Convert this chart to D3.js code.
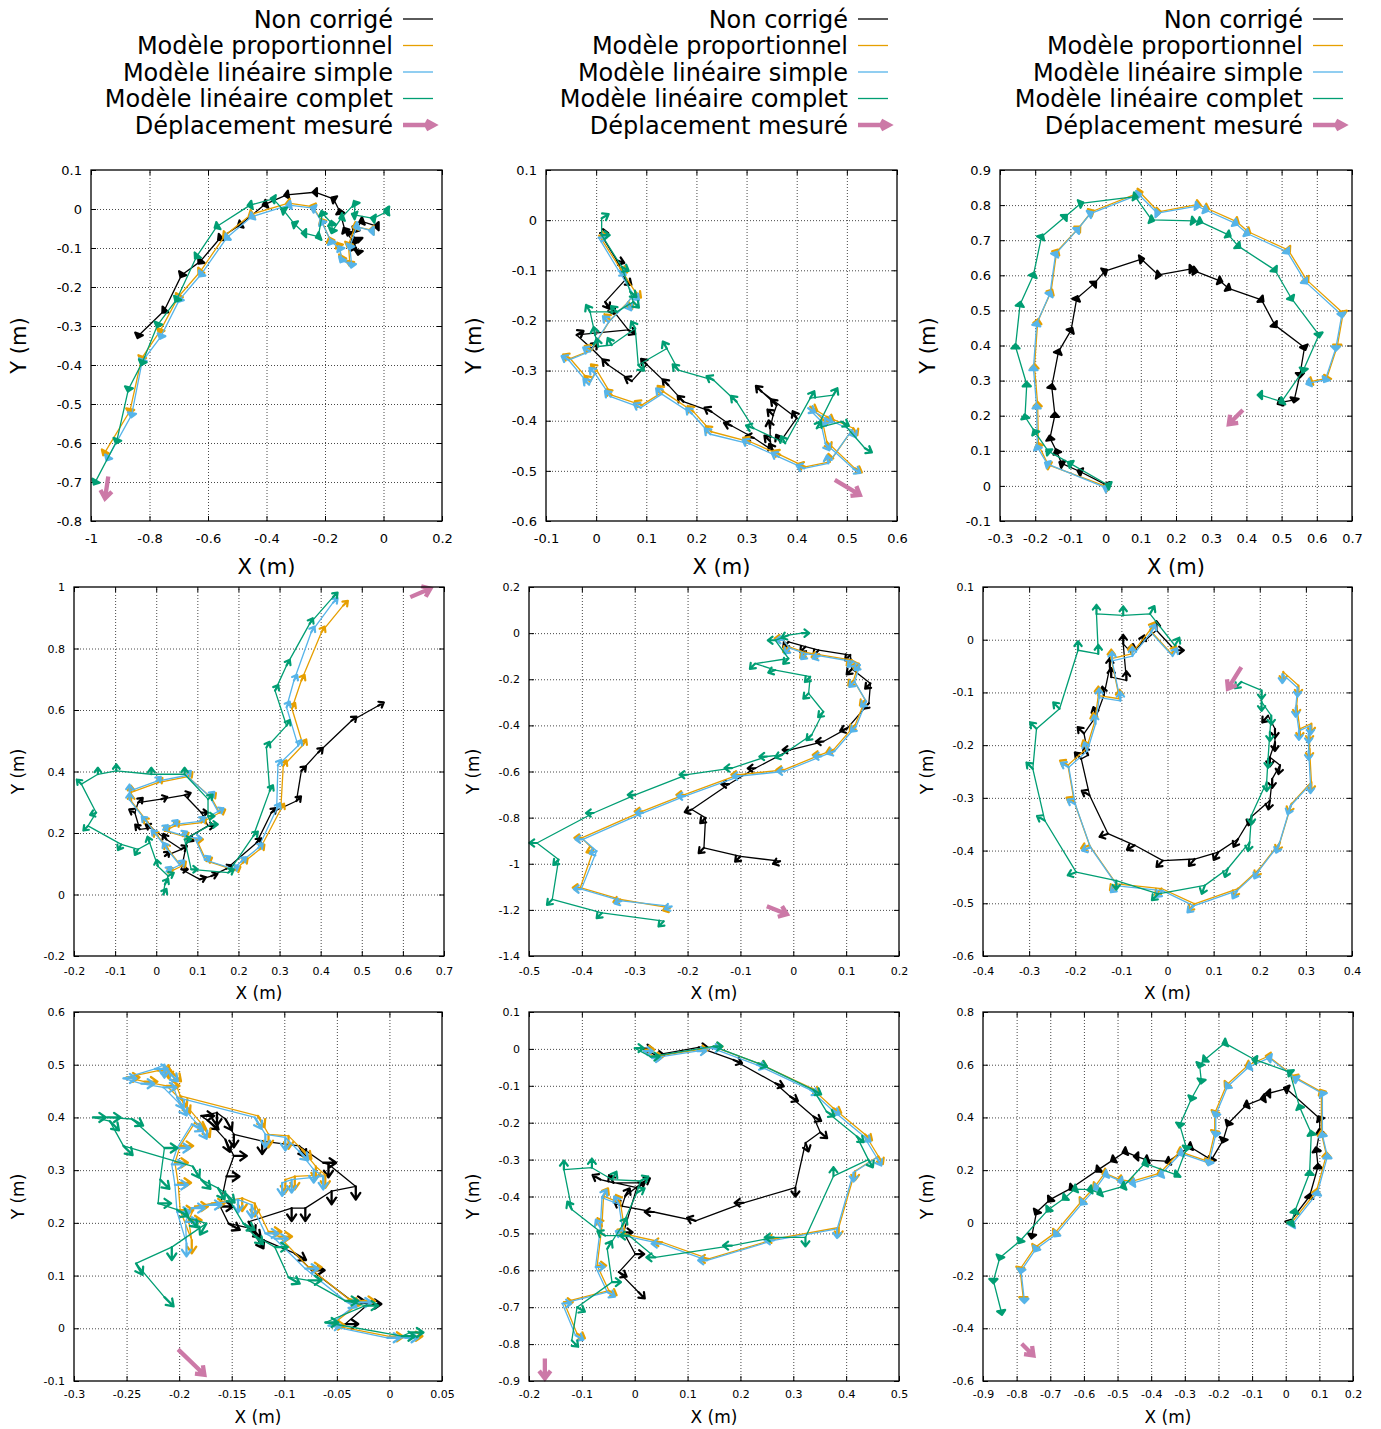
<!DOCTYPE html>
<html><head><meta charset="utf-8">
<script src="https://cdn.jsdelivr.net/npm/d3@7"></script>
<style>body{margin:0;background:#fff}svg{display:block}text{font-family:"DejaVu Sans",sans-serif}</style>
</head><body><svg id="c" width="1381" height="1429"></svg>
<script>
// ---------- legend / colours ----------
const seriesNames = ["Non corrigé","Modèle proportionnel","Modèle linéaire simple","Modèle linéaire complet"];
const pinkName = "Déplacement mesuré";
const seriesColors = ["#000000","#E69F00","#56B4E9","#009E73"];
const pinkColor = "#CC79A7";

// ---------- panel 1 (row 1, col 1) : [x, y, heading°] ----------
const p1XTicks = [-1,-0.8,-0.6,-0.4,-0.2,0,0.2];
const p1YTicks = [-0.8,-0.7,-0.6,-0.5,-0.4,-0.3,-0.2,-0.1,0,0.1];
const p1Raw = [[-0.023,-0.044,180],[-0.075,-0.032,200],[-0.097,-0.054,240],[-0.120,-0.062,250],[-0.086,-0.079,270],[-0.109,-0.101,250],[-0.086,-0.111,260],[-0.103,-0.084,110],[-0.132,-0.054,120],[-0.149,-0.007,100],[-0.171,0.026,150],[-0.234,0.043,180],[-0.331,0.036,190],[-0.405,0.012,200],[-0.491,-0.041,210],[-0.559,-0.075,220],[-0.627,-0.135,230],[-0.690,-0.169,240],[-0.750,-0.261,225],[-0.838,-0.325,250]];
const p1Prop = [[-0.040,-0.054,180],[-0.097,-0.045,200],[-0.120,-0.092,250],[-0.115,-0.139,260],[-0.143,-0.126,240],[-0.154,-0.092,120],[-0.183,-0.079,110],[-0.211,-0.031,120],[-0.242,0.006,160],[-0.325,0.015,190],[-0.453,-0.014,210],[-0.542,-0.068,220],[-0.627,-0.161,230],[-0.701,-0.225,240],[-0.764,-0.313,250],[-0.827,-0.383,250],[-0.867,-0.518,260],[-0.954,-0.626,240]];
const p1Lin = [[-0.040,-0.056,180],[-0.092,-0.045,200],[-0.115,-0.097,250],[-0.109,-0.144,260],[-0.143,-0.131,240],[-0.149,-0.101,120],[-0.179,-0.084,110],[-0.211,-0.034,120],[-0.240,0.002,160],[-0.323,0.010,190],[-0.451,-0.020,210],[-0.536,-0.074,220],[-0.624,-0.168,230],[-0.698,-0.233,240],[-0.761,-0.327,250],[-0.825,-0.391,250],[-0.861,-0.528,260],[-0.943,-0.639,240]];
const p1Full = [[0.011,-0.003,170],[0.011,-0.007,190],[-0.035,-0.024,170],[-0.100,-0.015,160],[-0.097,0.015,120],[-0.143,-0.022,200],[-0.175,-0.056,250],[-0.177,-0.037,100],[-0.209,-0.011,110],[-0.223,-0.071,200],[-0.271,-0.062,180],[-0.305,-0.038,150],[-0.342,-0.003,150],[-0.377,0.026,170],[-0.456,0.010,190],[-0.570,-0.045,210],[-0.639,-0.122,230],[-0.707,-0.232,240],[-0.772,-0.297,250],[-0.825,-0.394,250],[-0.872,-0.462,255],[-0.912,-0.595,250],[-0.986,-0.701,240]];
const p1Pink = [-0.941,-0.686,-0.952,-0.742];

// ---------- panel 2 ----------
const p2XTicks = [-0.1,0,0.1,0.2,0.3,0.4,0.5,0.6];
const p2YTicks = [-0.6,-0.5,-0.4,-0.3,-0.2,-0.1,0,0.1];
const p2Raw = [[0.008,-0.026,0],[0.041,-0.080,-20],[0.058,-0.119,-40],[0.018,-0.163,-60],[0.028,-0.173,-60],[0.064,-0.219,-30],[-0.039,-0.229,30],[-0.009,-0.256,45],[0.024,-0.289,135],[0.071,-0.321,150],[0.101,-0.288,135],[0.144,-0.329,135],[0.174,-0.362,135],[0.230,-0.382,150],[0.270,-0.410,160],[0.314,-0.434,170],[0.353,-0.460,120],[0.347,-0.441,135],[0.347,-0.415,100],[0.353,-0.389,135],[0.360,-0.369,135],[0.330,-0.342,135],[0.400,-0.395,120],[0.367,-0.442,120]];
const p2Prop = [[0.006,-0.031,0],[0.048,-0.096,-30],[0.078,-0.143,-45],[0.064,-0.163,-60],[0.028,-0.199,135],[-0.009,-0.259,150],[-0.052,-0.276,150],[-0.012,-0.322,135],[0.001,-0.299,135],[0.031,-0.349,135],[0.091,-0.369,150],[0.134,-0.342,135],[0.194,-0.382,135],[0.230,-0.422,135],[0.307,-0.442,150],[0.367,-0.468,150],[0.417,-0.492,160],[0.466,-0.482,100],[0.513,-0.415,-60],[0.460,-0.392,-30],[0.427,-0.372,-30],[0.450,-0.395,-45],[0.460,-0.442,-60],[0.516,-0.495,-30]];
const p2Lin = [[0.005,-0.035,0],[0.045,-0.101,-30],[0.074,-0.148,-45],[0.062,-0.166,-60],[0.025,-0.203,135],[-0.012,-0.262,150],[-0.055,-0.279,150],[-0.014,-0.328,135],[-0.002,-0.306,135],[0.029,-0.352,135],[0.089,-0.374,150],[0.131,-0.347,135],[0.191,-0.386,135],[0.228,-0.427,135],[0.306,-0.446,150],[0.364,-0.472,150],[0.415,-0.495,160],[0.463,-0.485,100],[0.510,-0.419,-60],[0.457,-0.395,-30],[0.423,-0.375,-30],[0.447,-0.399,-45],[0.457,-0.445,-60],[0.513,-0.496,-30]];
const p2Full = [[0.011,0.004,30],[0.011,-0.030,0],[0.051,-0.093,-30],[0.068,-0.143,-40],[0.074,-0.163,-45],[0.041,-0.183,135],[-0.012,-0.183,120],[-0.002,-0.229,100],[0.004,-0.252,100],[0.031,-0.249,120],[0.078,-0.216,120],[0.084,-0.289,-45],[0.141,-0.256,120],[0.164,-0.299,135],[0.234,-0.319,150],[0.280,-0.362,135],[0.314,-0.415,160],[0.377,-0.445,120],[0.427,-0.355,60],[0.473,-0.349,60],[0.440,-0.415,60],[0.490,-0.402,-30],[0.536,-0.455,-30]];
const p2Pink = [0.476,-0.518,0.526,-0.548];

// ---------- panel 3 ----------
const p3XTicks = [-0.3,-0.2,-0.1,0,0.1,0.2,0.3,0.4,0.5,0.6,0.7];
const p3YTicks = [-0.1,0,0.1,0.2,0.3,0.4,0.5,0.6,0.7,0.8,0.9];
const p3Raw = [[0.003,0.002,160],[-0.073,0.041,160],[-0.125,0.064,150],[-0.139,0.098,110],[-0.158,0.136,100],[-0.144,0.202,90],[-0.153,0.283,80],[-0.134,0.382,70],[-0.098,0.444,60],[-0.082,0.534,70],[-0.032,0.577,45],[-0.002,0.612,30],[0.102,0.646,10],[0.150,0.601,-10],[0.244,0.618,0],[0.254,0.612,-10],[0.325,0.584,-20],[0.349,0.563,-30],[0.443,0.530,-40],[0.481,0.458,-50],[0.565,0.394,-70],[0.552,0.316,-90],[0.536,0.245,-100],[0.495,0.237,-150]];
const p3Prop = [[0.003,-0.002,160],[-0.163,0.060,150],[-0.191,0.117,110],[-0.193,0.232,90],[-0.202,0.340,90],[-0.193,0.468,80],[-0.155,0.553,60],[-0.139,0.667,60],[-0.077,0.734,45],[-0.040,0.781,30],[0.098,0.836,10],[0.150,0.781,0],[0.263,0.802,-10],[0.287,0.791,-20],[0.372,0.753,-30],[0.405,0.724,-30],[0.519,0.672,-50],[0.571,0.587,-50],[0.675,0.492,-80],[0.658,0.397,-90],[0.628,0.306,-120],[0.581,0.297,-160]];
const p3Lin = [[0.000,-0.005,160],[-0.166,0.063,150],[-0.194,0.110,110],[-0.196,0.226,90],[-0.205,0.335,90],[-0.196,0.462,80],[-0.158,0.548,60],[-0.142,0.661,60],[-0.080,0.730,45],[-0.043,0.776,30],[0.094,0.830,10],[0.147,0.777,0],[0.260,0.797,-10],[0.284,0.786,-20],[0.369,0.748,-30],[0.402,0.719,-30],[0.516,0.667,-50],[0.567,0.582,-50],[0.671,0.487,-80],[0.654,0.392,-90],[0.624,0.302,-120],[0.577,0.293,-160]];
const p3Full = [[0.008,0.002,160],[-0.101,0.064,150],[-0.163,0.099,140],[-0.201,0.154,120],[-0.229,0.197,100],[-0.224,0.289,90],[-0.256,0.397,90],[-0.243,0.517,80],[-0.205,0.601,70],[-0.182,0.710,60],[-0.115,0.767,45],[-0.070,0.805,20],[0.084,0.824,-10],[0.131,0.758,-20],[0.249,0.755,-10],[0.268,0.753,-20],[0.349,0.715,-30],[0.377,0.683,-40],[0.481,0.615,-50],[0.528,0.534,-60],[0.606,0.430,-80],[0.562,0.330,-100],[0.500,0.240,-150],[0.439,0.259,180]];
const p3Pink = [0.390,0.216,0.350,0.176];

// ---------- panel 4 (row 2, col 1) ----------
const p4XTicks = [-0.2,-0.1,0,0.1,0.2,0.3,0.4,0.5,0.6,0.7];
const p4YTicks = [-0.2,0,0.2,0.4,0.6,0.8,1];
const p4Raw = [[0.021,0.125,45],[0.061,0.147,30],[0.025,0.179,120],[-0.012,0.217,150],[-0.040,0.212,135],[-0.052,0.266,150],[-0.044,0.299,45],[0.012,0.310,20],[0.069,0.323,20],[0.110,0.266,0],[0.126,0.223,0],[0.077,0.185,-30],[0.061,0.082,0],[0.106,0.049,20],[0.134,0.060,20],[0.171,0.084,30],[0.244,0.168,45],[0.280,0.266,45],[0.341,0.304,45],[0.353,0.402,45],[0.394,0.462,45],[0.475,0.565,40],[0.540,0.614,30]];
const p4Prop = [[0.029,0.071,45],[0.061,0.092,45],[0.029,0.147,120],[0.004,0.190,135],[-0.020,0.234,135],[-0.061,0.304,90],[-0.061,0.332,90],[0.004,0.364,45],[0.077,0.383,45],[0.134,0.315,45],[0.154,0.266,30],[0.110,0.234,45],[0.045,0.223,45],[0.021,0.207,45],[0.065,0.190,30],[0.098,0.179,0],[0.122,0.109,30],[0.191,0.079,30],[0.211,0.103,45],[0.252,0.147,45],[0.303,0.277,60],[0.309,0.418,60],[0.357,0.486,60],[0.330,0.605,60],[0.353,0.696,60],[0.402,0.853,60],[0.455,0.940,45]];
const p4Lin = [[0.025,0.075,45],[0.057,0.096,45],[0.025,0.150,120],[0.000,0.194,135],[-0.024,0.238,135],[-0.065,0.308,90],[-0.065,0.336,90],[0.000,0.368,45],[0.073,0.387,45],[0.130,0.319,45],[0.150,0.270,30],[0.106,0.238,45],[0.041,0.227,45],[0.017,0.211,45],[0.061,0.194,30],[0.094,0.183,0],[0.118,0.113,30],[0.187,0.083,30],[0.207,0.107,45],[0.248,0.151,45],[0.293,0.278,60],[0.296,0.420,60],[0.345,0.484,60],[0.317,0.609,60],[0.335,0.696,60],[0.377,0.853,60],[0.430,0.949,45]];
const p4Full = [[0.017,0.000,60],[0.021,0.033,60],[0.029,0.060,30],[0.004,0.092,100],[-0.016,0.168,110],[-0.044,0.147,240],[-0.085,0.163,240],[-0.166,0.223,225],[-0.146,0.266,200],[-0.182,0.359,135],[-0.142,0.391,90],[-0.097,0.402,90],[-0.012,0.391,90],[0.069,0.391,90],[0.126,0.310,45],[0.126,0.255,0],[0.134,0.228,0],[0.069,0.179,0],[0.085,0.082,0],[0.175,0.071,30],[0.236,0.190,45],[0.276,0.337,60],[0.268,0.478,60],[0.317,0.549,60],[0.289,0.663,60],[0.317,0.745,60],[0.373,0.880,60],[0.430,0.967,45]];
const p4Pink = [0.618,0.967,0.667,0.995];

// ---------- panel 5 ----------
const p5XTicks = [-0.5,-0.4,-0.3,-0.2,-0.1,0,0.1,0.2];
const p5YTicks = [-1.4,-1.2,-1,-0.8,-0.6,-0.4,-0.2,0,0.2];
const p5Raw = [[-0.009,-0.038,225],[0.023,-0.059,225],[0.048,-0.074,225],[0.108,-0.095,225],[0.111,-0.156,225],[0.146,-0.218,225],[0.143,-0.304,225],[0.102,-0.413,200],[0.057,-0.470,180],[-0.006,-0.506,180],[-0.072,-0.586,180],[-0.122,-0.655,180],[-0.192,-0.765,200],[-0.166,-0.801,225],[-0.169,-0.931,225],[-0.100,-0.968,225],[-0.025,-0.989,200]];
const p5Prop = [[-0.021,-0.023,180],[-0.009,-0.059,225],[0.023,-0.084,225],[0.048,-0.093,200],[0.111,-0.117,225],[0.124,-0.132,225],[0.114,-0.204,225],[0.136,-0.290,225],[0.117,-0.398,225],[0.076,-0.506,200],[0.051,-0.528,180],[-0.018,-0.593,180],[-0.103,-0.614,180],[-0.207,-0.701,180],[-0.286,-0.773,180],[-0.400,-0.888,180],[-0.378,-0.939,200],[-0.403,-1.104,180],[-0.327,-1.155,200],[-0.233,-1.191,200]];
const p5Lin = [[-0.019,-0.029,180],[-0.007,-0.065,225],[0.025,-0.090,225],[0.050,-0.099,200],[0.113,-0.123,225],[0.126,-0.138,225],[0.116,-0.210,225],[0.138,-0.296,225],[0.119,-0.404,225],[0.078,-0.512,200],[0.053,-0.534,180],[-0.016,-0.599,180],[-0.101,-0.620,180],[-0.205,-0.707,180],[-0.284,-0.779,180],[-0.398,-0.894,180],[-0.372,-0.945,200],[-0.401,-1.110,180],[-0.325,-1.161,200],[-0.230,-1.185,200]];
const p5Full = [[0.016,0.000,0],[-0.009,-0.009,200],[-0.034,-0.031,180],[-0.009,-0.110,225],[-0.072,-0.132,225],[-0.034,-0.160,200],[0.032,-0.189,225],[0.029,-0.261,225],[0.057,-0.341,225],[0.035,-0.441,225],[-0.021,-0.528,200],[-0.050,-0.535,180],[-0.116,-0.585,180],[-0.201,-0.614,180],[-0.299,-0.701,180],[-0.378,-0.780,180],[-0.485,-0.910,180],[-0.444,-0.982,225],[-0.456,-1.155,225],[-0.362,-1.213,225],[-0.245,-1.249,225]];
const p5Pink = [-0.050,-1.184,-0.012,-1.219];

// ---------- panel 6 ----------
const p6XTicks = [-0.4,-0.3,-0.2,-0.1,0,0.1,0.2,0.3,0.4];
const p6YTicks = [-0.6,-0.5,-0.4,-0.3,-0.2,-0.1,0,0.1];
const p6Raw = [[0.016,-0.020,0],[-0.024,0.018,90],[-0.057,-0.008,70],[-0.078,-0.025,80],[-0.096,-0.008,90],[-0.089,-0.077,90],[-0.122,-0.071,90],[-0.125,-0.052,90],[-0.138,-0.106,100],[-0.154,-0.144,110],[-0.181,-0.178,135],[-0.172,-0.219,120],[-0.187,-0.226,135],[-0.169,-0.295,150],[-0.129,-0.368,200],[-0.071,-0.390,210],[-0.010,-0.419,225],[0.059,-0.416,230],[0.110,-0.403,240],[0.153,-0.378,240],[0.182,-0.336,250],[0.222,-0.305,260],[0.227,-0.264,270],[0.244,-0.238,260],[0.222,-0.223,270],[0.233,-0.194,270],[0.233,-0.169,270],[0.218,-0.144,230]];
const p6Prop = [[0.009,-0.027,60],[-0.038,0.018,60],[-0.078,-0.027,90],[-0.122,-0.036,90],[-0.104,-0.112,90],[-0.150,-0.106,90],[-0.158,-0.156,100],[-0.176,-0.207,110],[-0.216,-0.238,150],[-0.202,-0.308,150],[-0.169,-0.390,200],[-0.111,-0.463,225],[-0.013,-0.472,225],[0.059,-0.501,225],[0.153,-0.472,240],[0.200,-0.434,240],[0.244,-0.384,250],[0.269,-0.311,250],[0.312,-0.270,270],[0.308,-0.207,270],[0.308,-0.175,270],[0.312,-0.159,270],[0.287,-0.169,270],[0.280,-0.125,270],[0.284,-0.087,270],[0.251,-0.061,270]];
const p6Lin = [[0.011,-0.031,60],[-0.036,0.014,60],[-0.076,-0.031,90],[-0.120,-0.040,90],[-0.102,-0.116,90],[-0.148,-0.110,90],[-0.156,-0.160,100],[-0.174,-0.211,110],[-0.214,-0.242,150],[-0.200,-0.312,150],[-0.167,-0.394,200],[-0.109,-0.467,225],[-0.011,-0.476,225],[0.057,-0.505,225],[0.151,-0.476,240],[0.198,-0.438,240],[0.242,-0.388,250],[0.267,-0.315,250],[0.310,-0.274,270],[0.306,-0.211,270],[0.306,-0.179,270],[0.310,-0.163,270],[0.285,-0.173,270],[0.278,-0.129,270],[0.282,-0.091,270],[0.249,-0.065,270]];
const p6Full = [[0.016,-0.011,60],[-0.038,0.049,60],[-0.096,0.046,90],[-0.154,0.049,90],[-0.150,-0.027,90],[-0.194,-0.020,90],[-0.234,-0.131,135],[-0.284,-0.169,135],[-0.292,-0.245,135],[-0.266,-0.343,150],[-0.198,-0.441,200],[-0.111,-0.457,270],[-0.020,-0.482,225],[0.081,-0.466,250],[0.131,-0.434,250],[0.178,-0.384,260],[0.182,-0.333,270],[0.215,-0.270,270],[0.218,-0.226,270],[0.222,-0.175,270],[0.225,-0.144,270],[0.204,-0.118,270],[0.204,-0.096,270],[0.160,-0.080,225]];
const p6Pink = [0.160,-0.052,0.131,-0.093];

// ---------- panel 7 (row 3, col 1) ----------
const p7XTicks = [-0.3,-0.25,-0.2,-0.15,-0.1,-0.05,0,0.05];
const p7YTicks = [-0.1,0,0.1,0.2,0.3,0.4,0.5,0.6];
const p7Raw = [[-0.042,0.008,0],[-0.020,0.046,0],[-0.036,0.052,0],[-0.074,0.110,0],[-0.090,0.142,-30],[-0.126,0.173,-60],[-0.131,0.189,-45],[-0.153,0.199,-30],[-0.161,0.231,0],[-0.155,0.288,0],[-0.148,0.327,0],[-0.156,0.358,-70],[-0.172,0.393,-40],[-0.179,0.403,0],[-0.164,0.409,-90],[-0.156,0.397,-60],[-0.148,0.368,-90],[-0.121,0.355,-90],[-0.086,0.346,-60],[-0.063,0.314,0],[-0.058,0.311,-90],[-0.032,0.269,-90],[-0.055,0.260,-90],[-0.080,0.228,-90],[-0.093,0.228,-90],[-0.134,0.202,-60]];
const p7Prop = [[0.019,-0.015,0],[0.001,-0.016,0],[-0.055,0.006,0],[-0.026,0.052,0],[-0.039,0.056,-30],[-0.077,0.116,0],[-0.105,0.174,0],[-0.115,0.183,0],[-0.128,0.237,-90],[-0.140,0.247,-90],[-0.169,0.237,0],[-0.185,0.231,0],[-0.191,0.205,0],[-0.188,0.167,-90],[-0.199,0.224,0],[-0.201,0.276,0],[-0.204,0.314,0],[-0.199,0.346,0],[-0.185,0.390,-30],[-0.177,0.384,-60],[-0.196,0.429,-60],[-0.212,0.460,0],[-0.233,0.468,0],[-0.250,0.476,0],[-0.220,0.489,0],[-0.210,0.499,-90],[-0.207,0.486,-45],[-0.199,0.441,-60],[-0.125,0.403,-60],[-0.115,0.368,-90],[-0.096,0.365,-90],[-0.083,0.339,-45],[-0.070,0.307,-90],[-0.061,0.291,-90],[-0.090,0.288,-90],[-0.099,0.282,-90]];
const p7Lin = [[0.015,-0.018,0],[-0.002,-0.018,0],[-0.058,0.005,0],[-0.029,0.049,0],[-0.042,0.052,-30],[-0.080,0.113,0],[-0.109,0.170,0],[-0.118,0.180,0],[-0.131,0.234,-90],[-0.144,0.244,-90],[-0.172,0.234,0],[-0.188,0.228,0],[-0.194,0.202,0],[-0.193,0.161,-90],[-0.202,0.221,0],[-0.204,0.272,0],[-0.207,0.311,0],[-0.202,0.342,0],[-0.188,0.387,-30],[-0.180,0.381,-60],[-0.199,0.425,-60],[-0.215,0.457,0],[-0.236,0.464,0],[-0.253,0.474,0],[-0.223,0.492,0],[-0.214,0.500,-90],[-0.210,0.486,-45],[-0.202,0.438,-60],[-0.128,0.400,-60],[-0.118,0.368,-90],[-0.099,0.362,-90],[-0.086,0.336,-45],[-0.072,0.301,-90],[-0.063,0.288,-90],[-0.093,0.282,-90],[-0.102,0.276,-90]];
const p7Full = [[0.020,-0.008,0],[0.012,-0.015,0],[-0.061,0.011,0],[-0.023,0.043,0],[-0.042,0.052,0],[-0.077,0.091,0],[-0.096,0.097,-30],[-0.109,0.154,0],[-0.129,0.177,-45],[-0.139,0.199,-30],[-0.156,0.256,-45],[-0.163,0.266,-60],[-0.179,0.282,-45],[-0.187,0.307,-60],[-0.253,0.346,-45],[-0.266,0.393,-45],[-0.282,0.400,0],[-0.268,0.400,0],[-0.245,0.397,-30],[-0.214,0.342,0],[-0.218,0.282,-45],[-0.220,0.237,0],[-0.202,0.225,-30],[-0.191,0.209,-45],[-0.174,0.199,-120],[-0.207,0.154,-90],[-0.241,0.123,-60],[-0.214,0.059,-45]];
const p7Pink = [-0.201,-0.040,-0.176,-0.088];

// ---------- panel 8 ----------
const p8XTicks = [-0.2,-0.1,0,0.1,0.2,0.3,0.4,0.5];
const p8YTicks = [-0.9,-0.8,-0.7,-0.6,-0.5,-0.4,-0.3,-0.2,-0.1,0,0.1];
const p8Raw = [[0.017,0.001,0],[0.039,-0.017,0],[0.121,0.004,0],[0.187,-0.030,-20],[0.266,-0.093,-20],[0.294,-0.129,-30],[0.338,-0.183,-30],[0.351,-0.226,-40],[0.323,-0.255,-70],[0.304,-0.376,-90],[0.206,-0.417,180],[0.115,-0.466,160],[0.036,-0.442,180],[-0.024,-0.426,150],[-0.018,-0.399,60],[0.014,-0.363,30],[-0.040,-0.363,120],[-0.065,-0.354,150],[0.004,-0.376,30],[-0.021,-0.497,0],[0.001,-0.556,0],[-0.030,-0.605,-30],[0.007,-0.659,-45]];
const p8Prop = [[0.020,-0.002,0],[0.036,-0.021,0],[0.121,-0.002,0],[0.149,0.006,0],[0.234,-0.039,-20],[0.335,-0.107,-30],[0.376,-0.161,-30],[0.436,-0.232,-40],[0.461,-0.291,-60],[0.417,-0.331,-90],[0.386,-0.484,-90],[0.266,-0.515,180],[0.140,-0.569,180],[0.052,-0.524,180],[-0.018,-0.502,150],[-0.027,-0.417,120],[-0.059,-0.399,60],[-0.062,-0.480,120],[-0.071,-0.587,0],[-0.049,-0.655,-30],[-0.134,-0.686,0],[-0.109,-0.772,-30]];
const p8Lin = [[0.017,-0.006,0],[0.033,-0.025,0],[0.118,-0.006,0],[0.146,0.002,0],[0.231,-0.043,-20],[0.332,-0.111,-30],[0.373,-0.165,-30],[0.433,-0.236,-40],[0.458,-0.295,-60],[0.414,-0.335,-90],[0.383,-0.488,-90],[0.263,-0.519,180],[0.137,-0.573,180],[0.049,-0.528,180],[-0.021,-0.506,150],[-0.030,-0.421,120],[-0.062,-0.403,60],[-0.065,-0.484,120],[-0.074,-0.591,0],[-0.052,-0.659,-30],[-0.137,-0.690,0],[-0.112,-0.776,-30]];
const p8Full = [[0.000,0.002,0],[0.030,-0.021,0],[0.149,0.007,0],[0.234,-0.039,-20],[0.338,-0.111,-30],[0.363,-0.170,-30],[0.420,-0.237,-40],[0.442,-0.300,-60],[0.376,-0.345,90],[0.323,-0.511,-90],[0.263,-0.511,180],[0.184,-0.533,180],[0.039,-0.565,180],[-0.011,-0.506,180],[-0.056,-0.506,150],[-0.119,-0.435,120],[-0.134,-0.327,90],[-0.081,-0.322,90],[-0.043,-0.354,60],[0.011,-0.358,30],[0.004,-0.390,30],[-0.024,-0.480,60],[-0.052,-0.542,60],[-0.043,-0.632,0],[-0.109,-0.700,-30],[-0.119,-0.790,-45]];
const p8Pink = [-0.170,-0.839,-0.170,-0.893];

// ---------- panel 9 ----------
const p9XTicks = [-0.9,-0.8,-0.7,-0.6,-0.5,-0.4,-0.3,-0.2,-0.1,0,0.1,0.2];
const p9YTicks = [-0.6,-0.4,-0.2,0,0.2,0.4,0.6,0.8];
const p9Raw = [[0.012,0.003,60],[0.071,0.101,80],[0.096,0.214,90],[0.091,0.277,100],[0.101,0.346,100],[0.101,0.396,120],[0.002,0.509,160],[-0.052,0.491,180],[-0.067,0.472,190],[-0.117,0.447,200],[-0.171,0.377,240],[-0.186,0.314,250],[-0.221,0.239,240],[-0.285,0.289,200],[-0.350,0.233,200],[-0.414,0.239,200],[-0.444,0.252,180],[-0.478,0.270,200],[-0.513,0.239,210],[-0.558,0.201,220],[-0.637,0.132,220],[-0.701,0.088,230],[-0.741,0.040,240],[-0.755,-0.050,260]];
const p9Prop = [[0.017,0.000,60],[0.091,0.119,80],[0.121,0.258,90],[0.106,0.340,100],[0.106,0.497,120],[0.027,0.553,150],[-0.052,0.632,170],[-0.112,0.598,200],[-0.176,0.523,230],[-0.211,0.416,250],[-0.211,0.342,260],[-0.231,0.233,250],[-0.315,0.270,200],[-0.374,0.189,200],[-0.458,0.157,190],[-0.493,0.164,190],[-0.538,0.189,200],[-0.567,0.138,220],[-0.607,0.082,230],[-0.686,-0.038,230],[-0.746,-0.094,240],[-0.790,-0.176,260],[-0.780,-0.289,270]];
const p9Lin = [[0.020,-0.006,60],[0.094,0.113,80],[0.124,0.252,90],[0.109,0.334,100],[0.109,0.491,120],[0.030,0.547,150],[-0.049,0.626,170],[-0.109,0.592,200],[-0.173,0.517,230],[-0.208,0.410,250],[-0.208,0.336,260],[-0.228,0.227,250],[-0.312,0.264,200],[-0.371,0.183,200],[-0.455,0.151,190],[-0.490,0.158,190],[-0.535,0.183,200],[-0.564,0.132,220],[-0.604,0.076,230],[-0.683,-0.044,230],[-0.743,-0.100,240],[-0.787,-0.182,260],[-0.777,-0.295,270]];
const p9Full = [[0.017,0.000,60],[0.027,0.044,80],[0.071,0.189,90],[0.076,0.340,100],[0.041,0.440,110],[0.012,0.572,140],[-0.092,0.619,170],[-0.181,0.682,200],[-0.241,0.619,220],[-0.256,0.598,250],[-0.251,0.538,260],[-0.280,0.472,250],[-0.315,0.371,260],[-0.295,0.283,260],[-0.325,0.182,220],[-0.419,0.226,200],[-0.483,0.138,200],[-0.553,0.113,200],[-0.582,0.126,190],[-0.627,0.128,200],[-0.657,0.094,220],[-0.706,0.050,230],[-0.790,-0.069,240],[-0.850,-0.132,250],[-0.869,-0.220,270],[-0.845,-0.340,280]];
const p9Pink = [-0.785,-0.459,-0.750,-0.503];

// ---------- assembly ----------
const panels = [
  {xt:p1XTicks, yt:p1YTicks, s:[p1Raw,p1Prop,p1Lin,p1Full], pink:p1Pink, L:2.5, H:6, sw:2.2, sp:0.75, fill:true},
  {xt:p2XTicks, yt:p2YTicks, s:[p2Raw,p2Prop,p2Lin,p2Full], pink:p2Pink, L:8, H:6.5, sw:2.3, sp:0.65},
  {xt:p3XTicks, yt:p3YTicks, s:[p3Raw,p3Prop,p3Lin,p3Full], pink:p3Pink, L:2.5, H:6, sw:2.2, sp:0.75, fill:true},
  {xt:p4XTicks, yt:p4YTicks, s:[p4Raw,p4Prop,p4Lin,p4Full], pink:p4Pink, L:6.5, H:5.5, sw:2.2, sp:0.65},
  {xt:p5XTicks, yt:p5YTicks, s:[p5Raw,p5Prop,p5Lin,p5Full], pink:p5Pink, L:7.5, H:6, sw:2.2, sp:0.65},
  {xt:p6XTicks, yt:p6YTicks, s:[p6Raw,p6Prop,p6Lin,p6Full], pink:p6Pink, L:9, H:6, sw:2.2, sp:0.65},
  {xt:p7XTicks, yt:p7YTicks, s:[p7Raw,p7Prop,p7Lin,p7Full], pink:p7Pink, L:13, H:8, sw:2.3, sp:0.6},
  {xt:p8XTicks, yt:p8YTicks, s:[p8Raw,p8Prop,p8Lin,p8Full], pink:p8Pink, L:9, H:6.5, sw:2.2, sp:0.65},
  {xt:p9XTicks, yt:p9YTicks, s:[p9Raw,p9Prop,p9Lin,p9Full], pink:p9Pink, L:2.5, H:6, sw:2.2, sp:0.75, fill:true}
];
const rows = [
  {top:170, bottom:521, tick:13, label:21, xPad:13, xLab:567, yOff:72, cols:[[91,442],[546,897],[1000,1352]]},
  {top:587, bottom:956, tick:11, label:17, xPad:11, xLab:993, yOff:56, cols:[[74,444],[529,899],[983,1352]]},
  {top:1012, bottom:1381, tick:11, label:17, xPad:9.5, xLab:1417, yOff:56, cols:[[74,442],[529,899],[983,1353]]}
];

const svg = d3.select("#c");

function arrowD(sx, sy, dx, dy, H, spread, closed){
  const a = Math.atan2(dy, dx);
  const h1x = H*Math.cos(a+Math.PI-spread), h1y = H*Math.sin(a+Math.PI-spread);
  const h2x = H*Math.cos(a+Math.PI+spread), h2y = H*Math.sin(a+Math.PI+spread);
  const tx = sx+dx, ty = sy+dy;
  return `M${sx},${sy}L${tx},${ty}M${tx+h1x},${ty+h1y}L${tx},${ty}L${tx+h2x},${ty+h2y}` + (closed ? "Z" : "");
}

panels.forEach((p, i) => {
  const r = rows[Math.floor(i/3)], c = r.cols[i%3];
  const x = d3.scaleLinear().domain([p.xt[0], p.xt[p.xt.length-1]]).range([c[0], c[1]]);
  const y = d3.scaleLinear().domain([p.yt[0], p.yt[p.yt.length-1]]).range([r.bottom, r.top]);
  const g = svg.append("g").attr("font-family", "DejaVu Sans, sans-serif");
  const W = c[1]-c[0], Hh = r.bottom-r.top;

  // grid
  const gx = g.append("g").attr("transform", `translate(0,${r.bottom})`)
    .call(d3.axisBottom(x).tickValues(p.xt.slice(1,-1)).tickSize(-Hh).tickFormat(""));
  const gy = g.append("g").attr("transform", `translate(${c[0]},0)`)
    .call(d3.axisLeft(y).tickValues(p.yt.slice(1,-1)).tickSize(-W).tickFormat(""));
  [gx, gy].forEach(a => {
    a.select(".domain").remove();
    a.selectAll("line").attr("stroke", "#333").attr("stroke-width", 0.9).attr("stroke-dasharray", "1,2");
  });

  // axes with inward ticks
  const fmt = d => String(d);
  const ab = g.append("g").attr("transform", `translate(0,${r.bottom})`)
    .call(d3.axisBottom(x).tickValues(p.xt).tickSize(-5).tickPadding(r.xPad).tickFormat(fmt));
  const at = g.append("g").attr("transform", `translate(0,${r.top})`)
    .call(d3.axisTop(x).tickValues(p.xt).tickSize(-5).tickFormat(""));
  const al = g.append("g").attr("transform", `translate(${c[0]},0)`)
    .call(d3.axisLeft(y).tickValues(p.yt).tickSize(-5).tickPadding(9).tickFormat(fmt));
  const ar = g.append("g").attr("transform", `translate(${c[1]},0)`)
    .call(d3.axisRight(y).tickValues(p.yt).tickSize(-5).tickFormat(""));
  [ab, at, al, ar].forEach(a => {
    a.select(".domain").remove();
    a.selectAll("line").attr("stroke", "#000").attr("stroke-width", 1);
    a.selectAll("text").attr("font-size", r.tick).attr("fill", "#000").attr("font-family", "DejaVu Sans, sans-serif");
  });

  // series
  const line = d3.line().x(d => x(d[0])).y(d => y(d[1]));
  p.s.forEach((data, k) => {
    const col = seriesColors[k];
    g.append("path").attr("d", line(data)).attr("fill", "none")
      .attr("stroke", col).attr("stroke-width", 1.3).attr("stroke-linejoin", "round");
    g.append("g").selectAll("path").data(data).join("path")
      .attr("d", d => {
        const a = d[2]*Math.PI/180;
        return arrowD(x(d[0]), y(d[1]), p.L*Math.cos(a), -p.L*Math.sin(a), p.H, p.sp, p.fill);
      })
      .attr("fill", p.fill ? col : "none").attr("stroke", col).attr("stroke-width", p.sw)
      .attr("stroke-linecap", "round").attr("stroke-linejoin", "round");
  });

  // measured displacement
  const pk = p.pink;
  const sx = x(pk[0]), sy = y(pk[1]);
  g.append("path").attr("d", arrowD(sx, sy, x(pk[2])-sx, y(pk[3])-sy, 9.5, 0.65, false))
    .attr("fill", "none").attr("stroke", pinkColor).attr("stroke-width", 4.3)
    .attr("stroke-linecap", "butt").attr("stroke-linejoin", "miter");

  // border
  g.append("rect").attr("x", c[0]).attr("y", r.top).attr("width", W).attr("height", Hh)
    .attr("fill", "none").attr("stroke", "#000").attr("stroke-width", 1.3);

  // axis titles
  g.append("text").attr("x", (c[0]+c[1])/2).attr("y", r.xLab).attr("text-anchor", "middle")
    .attr("dominant-baseline", "central").attr("font-size", r.label).text("X (m)");
  const yc = (r.top+r.bottom)/2, xc = c[0]-r.yOff;
  g.append("text").attr("transform", `translate(${xc},${yc}) rotate(-90)`).attr("text-anchor", "middle")
    .attr("dominant-baseline", "central").attr("font-size", r.label).text("Y (m)");
});

// legends (one per column, above the first row)
rows[0].cols.forEach(c => {
  const x2 = c[1]-9, x1 = x2-30, tx = x1-10;
  const lg = svg.append("g");
  const names = seriesNames.concat([pinkName]);
  names.forEach((n, k) => {
    const cy = 19 + k*26.5;
    lg.append("text").attr("x", tx).attr("y", cy+8.5).attr("text-anchor", "end")
      .attr("font-size", 24).attr("fill", "#000").text(n);
    if (k < 4) {
      lg.append("line").attr("x1", x1).attr("x2", x2).attr("y1", cy).attr("y2", cy)
        .attr("stroke", seriesColors[k]).attr("stroke-width", 1.3);
    } else {
      lg.append("path").attr("d", arrowD(x1, cy, 31, 0, 9, 0.5, false))
        .attr("fill", "none").attr("stroke", pinkColor).attr("stroke-width", 4.5);
    }
  });
});
</script>
</body></html>
